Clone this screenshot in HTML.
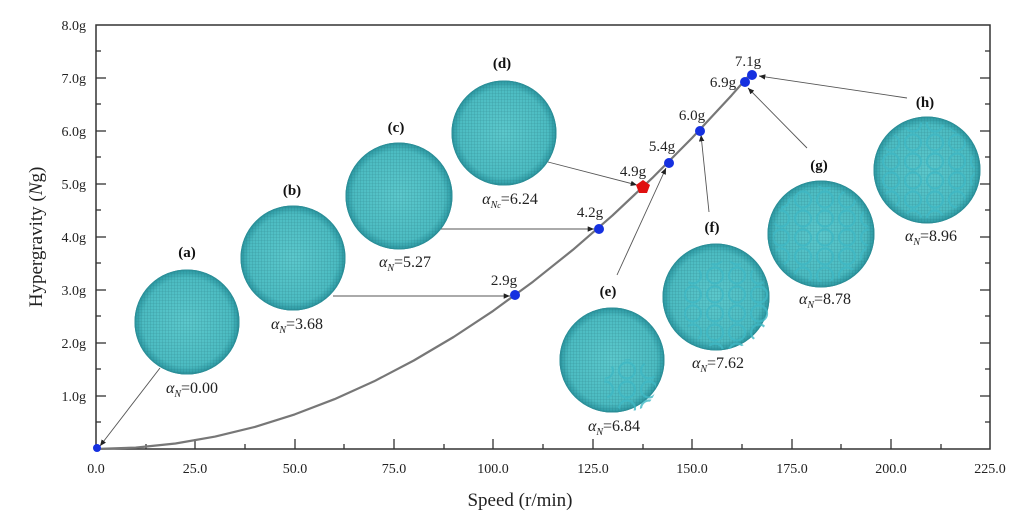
<!DOCTYPE html>
<html><head><meta charset="utf-8"><style>
body{margin:0;background:#fff;}
svg{font-family:"Liberation Serif",serif;}
</style></head><body>
<svg width="1029" height="525" viewBox="0 0 1029 525" xmlns="http://www.w3.org/2000/svg">
<defs>
<radialGradient id="dish" cx="50%" cy="50%" r="50%">
<stop offset="0" stop-color="#5cc8cc"/><stop offset="0.85" stop-color="#4cbcc2"/><stop offset="1" stop-color="#2c98a2"/>
</radialGradient>
<pattern id="grid" width="3" height="3" patternUnits="userSpaceOnUse">
<path d="M0 0H3M0 0V3" stroke="#1f6870" stroke-width="0.6" opacity="0.5"/>
</pattern>
<pattern id="hex" width="22" height="19" patternUnits="userSpaceOnUse">
<circle cx="11" cy="9.5" r="8" fill="none" stroke="#3fb8c4" stroke-width="2.2" opacity="0.8"/>
</pattern>
<marker id="ar" markerWidth="8" markerHeight="8" refX="7" refY="3" orient="auto"><path d="M0,0 L7,3 L0,6 z" fill="#222"/></marker>
</defs>
<rect x="96" y="25" width="894" height="424" fill="none" stroke="#333" stroke-width="1.5"/>
<g stroke="#333" stroke-width="1.3">
<line x1="195" y1="449" x2="195" y2="439"/><line x1="295" y1="449" x2="295" y2="439"/><line x1="394" y1="449" x2="394" y2="439"/><line x1="493" y1="449" x2="493" y2="439"/><line x1="593" y1="449" x2="593" y2="439"/><line x1="692" y1="449" x2="692" y2="439"/><line x1="792" y1="449" x2="792" y2="439"/><line x1="891" y1="449" x2="891" y2="439"/>
<line x1="146" y1="449" x2="146" y2="444"/><line x1="245" y1="449" x2="245" y2="444"/><line x1="344" y1="449" x2="344" y2="444"/><line x1="444" y1="449" x2="444" y2="444"/><line x1="543" y1="449" x2="543" y2="444"/><line x1="643" y1="449" x2="643" y2="444"/><line x1="742" y1="449" x2="742" y2="444"/><line x1="841" y1="449" x2="841" y2="444"/><line x1="941" y1="449" x2="941" y2="444"/>
<line x1="96" y1="396" x2="106" y2="396"/><line x1="96" y1="343" x2="106" y2="343"/><line x1="96" y1="290" x2="106" y2="290"/><line x1="96" y1="237" x2="106" y2="237"/><line x1="96" y1="184" x2="106" y2="184"/><line x1="96" y1="131" x2="106" y2="131"/><line x1="96" y1="78" x2="106" y2="78"/>
<line x1="96" y1="422" x2="101" y2="422"/><line x1="96" y1="369" x2="101" y2="369"/><line x1="96" y1="316" x2="101" y2="316"/><line x1="96" y1="263" x2="101" y2="263"/><line x1="96" y1="210" x2="101" y2="210"/><line x1="96" y1="157" x2="101" y2="157"/><line x1="96" y1="104" x2="101" y2="104"/><line x1="96" y1="51" x2="101" y2="51"/>
<line x1="990" y1="396" x2="980" y2="396"/><line x1="990" y1="343" x2="980" y2="343"/><line x1="990" y1="290" x2="980" y2="290"/><line x1="990" y1="237" x2="980" y2="237"/><line x1="990" y1="184" x2="980" y2="184"/><line x1="990" y1="131" x2="980" y2="131"/><line x1="990" y1="78" x2="980" y2="78"/>
<line x1="990" y1="422" x2="985" y2="422"/><line x1="990" y1="369" x2="985" y2="369"/><line x1="990" y1="316" x2="985" y2="316"/><line x1="990" y1="263" x2="985" y2="263"/><line x1="990" y1="210" x2="985" y2="210"/><line x1="990" y1="157" x2="985" y2="157"/><line x1="990" y1="104" x2="985" y2="104"/><line x1="990" y1="51" x2="985" y2="51"/>
</g>
<g font-size="14" fill="#222" text-anchor="middle">
<text x="96" y="473">0.0</text><text x="195" y="473">25.0</text><text x="295" y="473">50.0</text><text x="394" y="473">75.0</text><text x="493" y="473">100.0</text><text x="593" y="473">125.0</text><text x="692" y="473">150.0</text><text x="792" y="473">175.0</text><text x="891" y="473">200.0</text><text x="990" y="473">225.0</text>
</g>
<g font-size="14" fill="#222" text-anchor="end">
<text x="86" y="401">1.0g</text><text x="86" y="348">2.0g</text><text x="86" y="295">3.0g</text><text x="86" y="242">4.0g</text><text x="86" y="189">5.0g</text><text x="86" y="136">6.0g</text><text x="86" y="83">7.0g</text><text x="86" y="30">8.0g</text>
</g>
<text x="520" y="506" font-size="19" text-anchor="middle" fill="#222">Speed   (r/min)</text>
<text transform="translate(42,237) rotate(-90)" font-size="19" text-anchor="middle" fill="#222">Hypergravity (<tspan font-style="italic">N</tspan>g)</text>
<polyline points="96,449 135.7,447.6 175.5,443.5 215.2,436.6 254.9,426.9 294.7,414.4 334.4,399.2 374.1,381.3 413.8,360.5 453.6,337 493.3,310.8 533,281.7 572.8,249.9 612.5,215.4 652.2,178.1 692,138 731.7,95.2 751.5,72.7" fill="none" stroke="#777" stroke-width="2.2" stroke-linejoin="round"/>
<g stroke="#555" stroke-width="0.9" marker-end="url(#ar)">
<line x1="160" y1="368" x2="100" y2="446"/>
<line x1="333" y1="296" x2="510" y2="296"/>
<line x1="440" y1="229" x2="594" y2="229"/>
<line x1="548" y1="162" x2="637" y2="185"/>
<line x1="617" y1="275" x2="666" y2="168"/>
<line x1="709" y1="212" x2="701" y2="135"/>
<line x1="807" y1="148" x2="748" y2="88"/>
<line x1="907" y1="98" x2="759" y2="76"/>
</g>
<g fill="#1530e0">
<circle cx="97" cy="448" r="4"/><circle cx="515" cy="295" r="5"/><circle cx="599" cy="229" r="5"/><circle cx="669" cy="163" r="5"/><circle cx="700" cy="131" r="5"/><circle cx="745" cy="82" r="5"/><circle cx="752" cy="75" r="5"/>
</g>
<polygon points="643,180 650,185 647,193 639,193 636,185" fill="#e01010"/>
<g font-size="15" fill="#222" text-anchor="middle">
<text x="504" y="285">2.9g</text><text x="590" y="217">4.2g</text><text x="633" y="176">4.9g</text><text x="662" y="151">5.4g</text><text x="692" y="120">6.0g</text><text x="723" y="87">6.9g</text><text x="748" y="66">7.1g</text>
</g>
<g stroke="#2c8f98" stroke-width="1">
<circle cx="187" cy="322" r="52" fill="url(#dish)"/><circle cx="187" cy="322" r="52" fill="url(#grid)"/>
<circle cx="293" cy="258" r="52" fill="url(#dish)"/><circle cx="293" cy="258" r="52" fill="url(#grid)"/>
<circle cx="399" cy="196" r="53" fill="url(#dish)"/><circle cx="399" cy="196" r="53" fill="url(#grid)"/>
<circle cx="504" cy="133" r="52" fill="url(#dish)"/><circle cx="504" cy="133" r="52" fill="url(#grid)"/>
<circle cx="612" cy="360" r="52" fill="url(#dish)"/><circle cx="612" cy="360" r="52" fill="url(#grid)"/>
<circle cx="716" cy="297" r="53" fill="url(#dish)"/><circle cx="716" cy="297" r="53" fill="url(#grid)"/>
<circle cx="821" cy="234" r="53" fill="url(#dish)"/><circle cx="821" cy="234" r="53" fill="url(#grid)"/>
<circle cx="927" cy="170" r="53" fill="url(#dish)"/><circle cx="927" cy="170" r="53" fill="url(#grid)"/>
</g>
<g stroke="none">
<circle cx="630" cy="385" r="26" fill="url(#hex)"/>
<circle cx="726" cy="305" r="44" fill="url(#hex)"/>
<circle cx="821" cy="234" r="48" fill="url(#hex)"/>
<circle cx="927" cy="170" r="48" fill="url(#hex)"/>
</g>
<g font-size="15" font-weight="bold" fill="#111" text-anchor="middle">
<text x="187" y="257">(a)</text><text x="292" y="195">(b)</text><text x="396" y="132">(c)</text><text x="502" y="68">(d)</text><text x="608" y="296">(e)</text><text x="712" y="232">(f)</text><text x="819" y="170">(g)</text><text x="925" y="107">(h)</text>
</g>
<g font-size="16" fill="#222" text-anchor="middle">
<text x="192" y="393"><tspan font-style="italic">α<tspan font-size="10" dy="4">N</tspan></tspan><tspan dy="-4">=0.00</tspan></text>
<text x="297" y="329"><tspan font-style="italic">α<tspan font-size="10" dy="4">N</tspan></tspan><tspan dy="-4">=3.68</tspan></text>
<text x="405" y="267"><tspan font-style="italic">α<tspan font-size="10" dy="4">N</tspan></tspan><tspan dy="-4">=5.27</tspan></text>
<text x="510" y="204"><tspan font-style="italic">α<tspan font-size="10" dy="4">N<tspan font-size="8">c</tspan></tspan></tspan><tspan dy="-4">=6.24</tspan></text>
<text x="614" y="431"><tspan font-style="italic">α<tspan font-size="10" dy="4">N</tspan></tspan><tspan dy="-4">=6.84</tspan></text>
<text x="718" y="368"><tspan font-style="italic">α<tspan font-size="10" dy="4">N</tspan></tspan><tspan dy="-4">=7.62</tspan></text>
<text x="825" y="304"><tspan font-style="italic">α<tspan font-size="10" dy="4">N</tspan></tspan><tspan dy="-4">=8.78</tspan></text>
<text x="931" y="241"><tspan font-style="italic">α<tspan font-size="10" dy="4">N</tspan></tspan><tspan dy="-4">=8.96</tspan></text>
</g>
</svg>
</body></html>
